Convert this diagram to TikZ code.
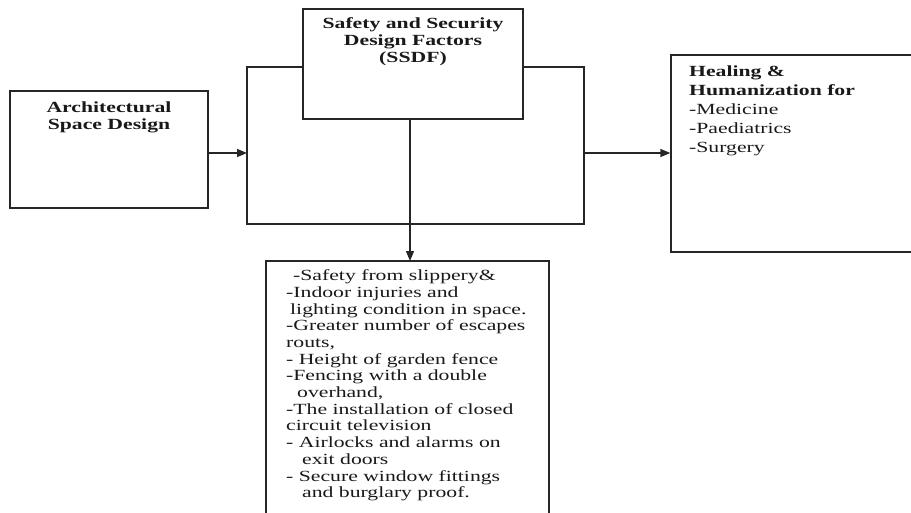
\documentclass[tikz,border=0pt]{standalone}
\usepackage{fontspec}
\newfontfamily\figfont[FakeStretch=1.4]{Liberation Serif}
\usetikzlibrary{arrows.meta}
\begin{document}
\begin{tikzpicture}[x=1pt,y=-1pt,
  box/.style={draw=black!85, line width=1.3pt, minimum width=#1, inner sep=0pt},
  txt/.style={inner sep=0pt, text=black!90, font=\figfont\fontsize{15.5}{17}\selectfont},
  wire/.style={draw=black!85, line width=1.3pt},
  arr/.style={wire, -{Triangle[length=10pt,width=8pt]}}]
\clip (0,0) rectangle (911,512);
\fill[white] (0,0) rectangle (911,512);
% boxes
\node[box=198pt, minimum height=117pt] (arch) at (109,149.5) {};
\node[box=220pt, minimum height=110pt] (ssdf) at (413,64) {};
\node[box=244pt, minimum height=197pt] (heal) at (793,153.5) {};
\node[box=283pt, minimum height=269pt] (low) at (407.5,395.5) {};
% texts
\node[txt, anchor=north, align=center] (archtxt) at (109,101.5)
  {\bfseries Architectural\\\bfseries Space Design};
\node[txt, anchor=north, align=center] (ssdftxt) at (413,17.5)
  {\bfseries Safety and Security\\\bfseries Design Factors\\\bfseries (SSDF)};
\node[txt, anchor=north west, align=left, font=\figfont\fontsize{15.5}{19}\selectfont] (healtxt) at (689,65.5)
  {\bfseries Healing \&\\\bfseries Humanization for\\-Medicine\\-Paediatrics\\-Surgery};
\node[txt, anchor=north west, align=left, font=\figfont\fontsize{15.5}{16.7}\selectfont] (lowtxt) at (286,269.5)
  {\hspace*{7pt}-Safety from slippery\&\\
   -Indoor injuries and\\
   \hspace*{4pt}lighting condition in space.\\
   -Greater number of escapes\\
   routs,\\
   - Height of garden fence\\
   -Fencing with a double\\
   \hspace*{11pt}overhand,\\
   -The installation of closed\\
   circuit television\\
   - Airlocks and alarms on\\
   \hspace*{16pt}exit doors\\
   - Secure window fittings\\
   \hspace*{16pt}and burglary proof.};
% frame around SSDF
\coordinate (fl) at (247,67);
\coordinate (fr) at (584,67);
\coordinate (fbl) at (247,224);
\coordinate (fbr) at (584,224);
\coordinate (inl) at (247,153);
\coordinate (inr) at (584,153);
\coordinate (down) at (410,119);
\coordinate (downend) at (410,261);
\draw[wire] (ssdf.west |- fl) -- (fl) -- (fbl) -- (fbr) -- (fr) -- (ssdf.east |- fr);
\draw[arr] (arch.east |- inl) -- (inl);
\draw[arr] (inr) -- (heal.west |- inr);
\draw[arr] (down) -- (downend);
\end{tikzpicture}
\end{document}
